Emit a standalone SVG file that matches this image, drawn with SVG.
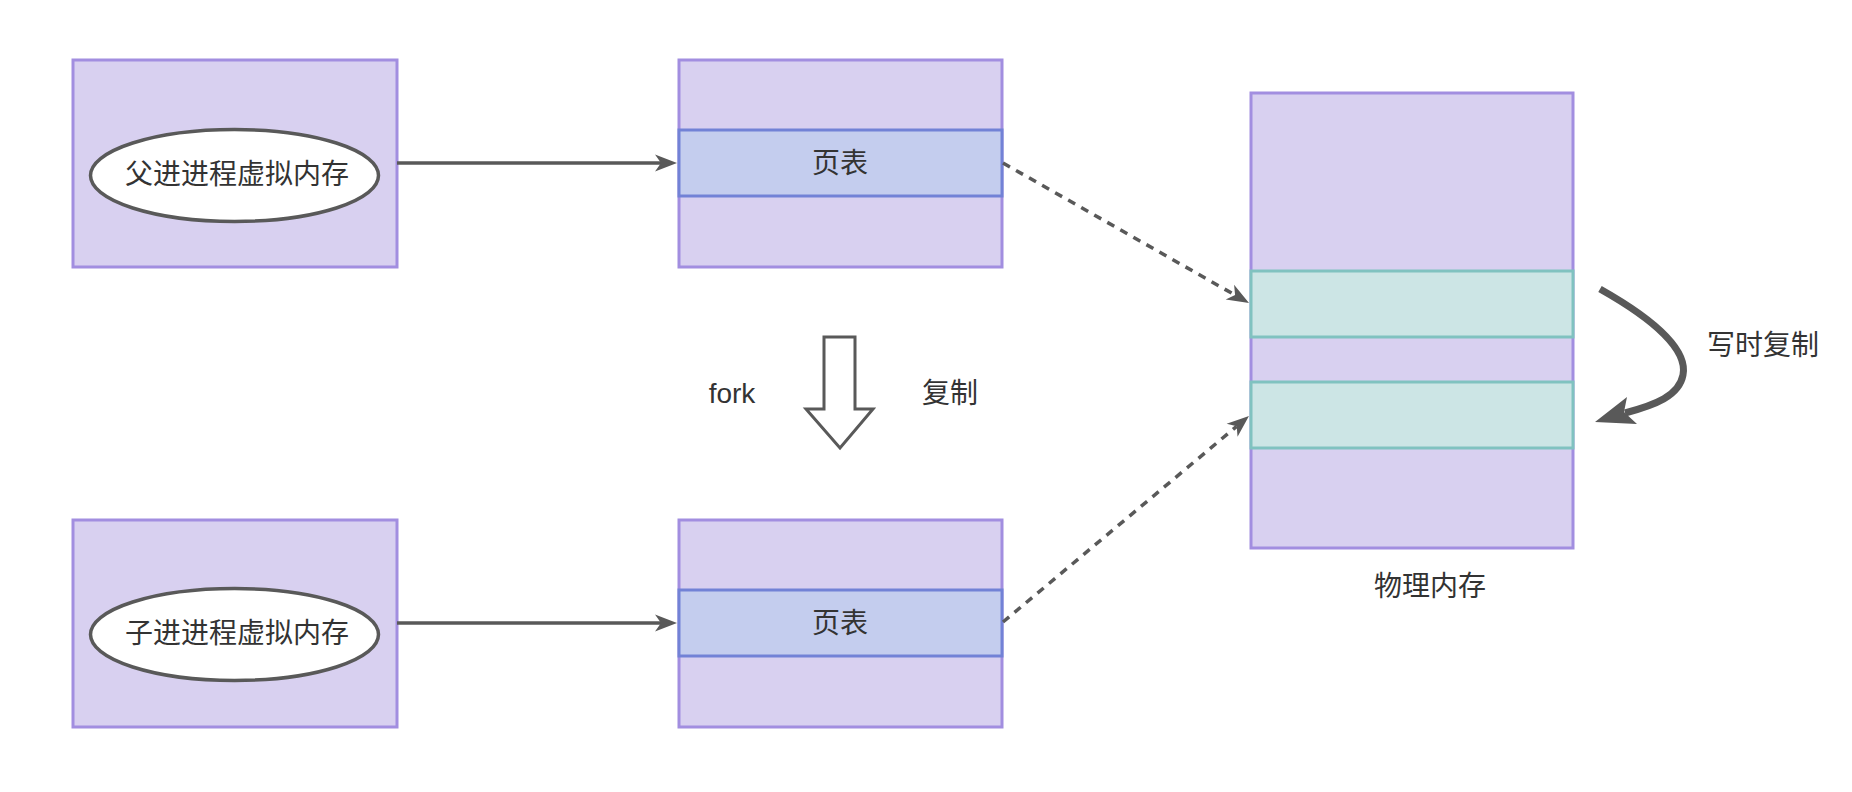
<svg xmlns="http://www.w3.org/2000/svg" width="1852" height="792" viewBox="0 0 1852 792">
<style>
.box{fill:#d8d0f0;stroke:#a28ee0;stroke-width:3}
.pt{fill:#c4cdee;stroke:#7282d6;stroke-width:3}
.pm{fill:#cce5e5;stroke:#80c2c0;stroke-width:3}
.ell{fill:#ffffff;stroke:#595959;stroke-width:3.5}
.t{font-family:"Liberation Sans","Noto Sans CJK SC",sans-serif;font-size:28px;fill:#333333;text-anchor:middle;dominant-baseline:central}
.solid{fill:none;stroke:#595959;stroke-width:3.5}
.dash{fill:none;stroke:#595959;stroke-width:3.5;stroke-dasharray:8 7}
</style>
<defs>
<marker id="ah" markerUnits="userSpaceOnUse" viewBox="-24 -10 24 20" markerWidth="24" markerHeight="20" refX="-16" refY="0" orient="auto">
<path d="M0,0 L-22,-8.5 L-16,0 L-22,8.5 Z" fill="#595959"/>
</marker>
</defs>
<rect width="1852" height="792" fill="#ffffff"/>
<g id="parent-vm">
<rect class="box" x="73" y="60" width="324" height="207"/>
<ellipse class="ell" cx="234.5" cy="175.5" rx="144" ry="46"/>
<text class="t" x="237" y="174">父进进程虚拟内存</text>
</g>
<g id="parent-pt">
<rect class="box" x="679" y="60" width="323" height="207"/>
<rect class="pt" x="679" y="130" width="323" height="66"/>
<text class="t" x="840" y="163">页表</text>
</g>
<g id="child-vm">
<rect class="box" x="73" y="520" width="324" height="207"/>
<ellipse class="ell" cx="234.5" cy="634.5" rx="144" ry="46"/>
<text class="t" x="237" y="633">子进进程虚拟内存</text>
</g>
<g id="child-pt">
<rect class="box" x="679" y="520" width="323" height="207"/>
<rect class="pt" x="679" y="590" width="323" height="66"/>
<text class="t" x="840" y="623">页表</text>
</g>
<g id="phys-mem">
<rect class="box" x="1251" y="93" width="322" height="455"/>
<rect class="pm" x="1251" y="271" width="322" height="66"/>
<rect class="pm" x="1251" y="382" width="322" height="66"/>
<text class="t" x="1430" y="586">物理内存</text>
</g>
<g id="fork-arrow">
<path d="M824,337 L855,337 L855,409 L873,409 L840,448 L806,409 L824,409 Z" fill="#ffffff" stroke="#595959" stroke-width="3" stroke-linejoin="miter"/>
<text class="t" x="732" y="393">fork</text>
<text class="t" x="950" y="393">复制</text>
</g>
<g id="cow">
<path d="M1600,289 C1655,320 1688,350 1683,375 C1679,396 1655,405 1625,413" fill="none" stroke="#595959" stroke-width="7"/>
<path d="M1595,422 L1627,397 L1624,412 L1637,424 Z" fill="#595959"/>
<text class="t" x="1763" y="345">写时复制</text>
</g>
<g id="connectors">
<line class="solid" x1="397" y1="163" x2="661" y2="163" marker-end="url(#ah)"/>
<line class="solid" x1="397" y1="623" x2="661" y2="623" marker-end="url(#ah)"/>
<line class="dash" x1="1003" y1="163" x2="1235.1" y2="295.1" marker-end="url(#ah)"/>
<line class="dash" x1="1003" y1="622" x2="1236.7" y2="426.3" marker-end="url(#ah)"/>
</g>
</svg>
